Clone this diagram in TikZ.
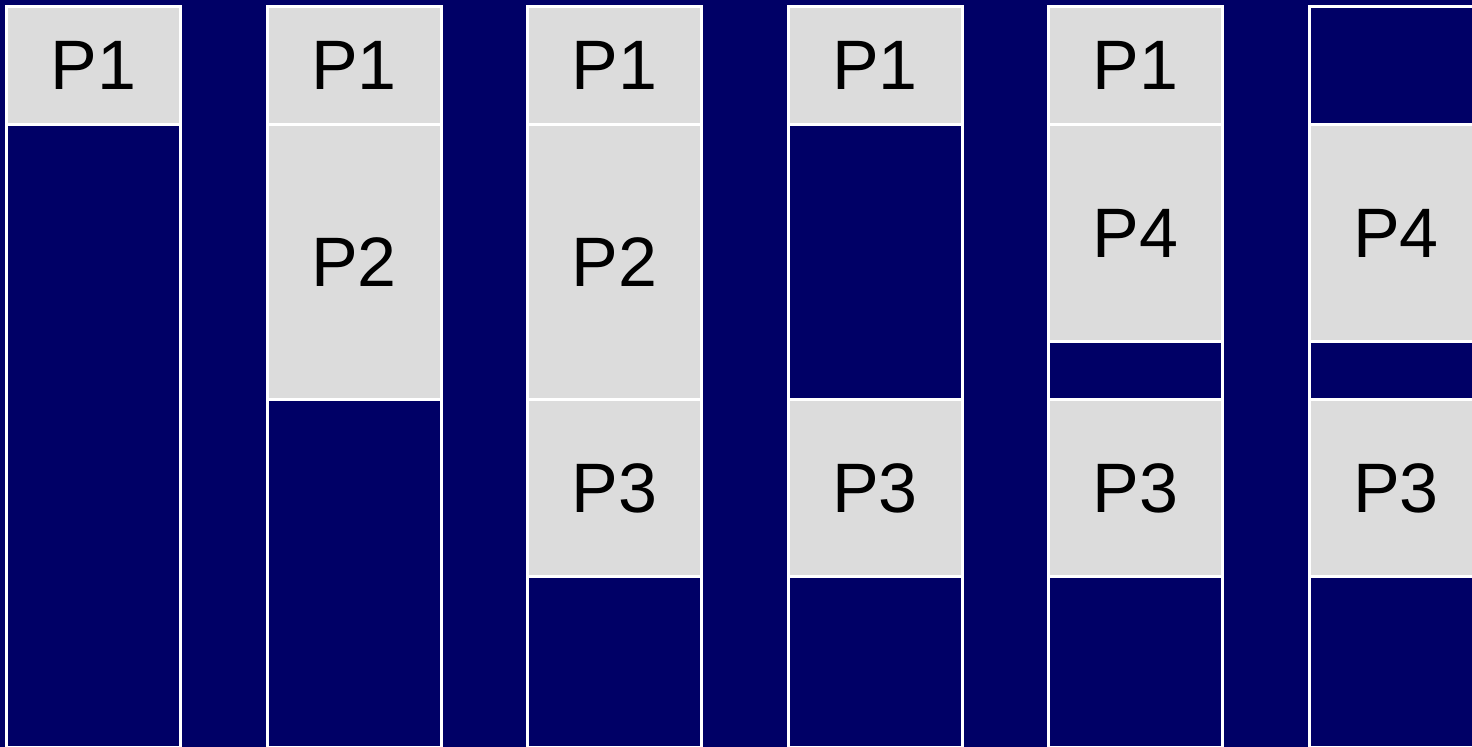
\documentclass[tikz,border=0pt]{standalone}
\usepackage{fontspec}
\setmainfont{Liberation Sans}
\usetikzlibrary{positioning}
\definecolor{memnavy}{HTML}{000066}
\definecolor{memgray}{HTML}{DCDCDC}
\begin{document}
\begin{tikzpicture}[
    x=0.5pt, y=-0.5pt,
    node distance=0pt,
    cell/.style={draw=white, line width=1.5pt, outer sep=0pt, inner sep=0pt, minimum width=87pt, anchor=north},
    proc/.style={cell, fill=memgray, font=\fontsize{35}{42}\selectfont},
    hole/.style={cell, fill=memnavy}
]
\fill[memnavy] (0,0) rectangle (1472,747);
\useasboundingbox (0,0) rectangle (1472,747);
\clip (0,0) rectangle (1472,747);

% column 1
\node[proc, minimum height=59pt] (a1) at (93.5,6.5) {P1};
\node[hole, minimum height=311.75pt, below=of a1] (a2) {};

% column 2
\node[proc, minimum height=59pt] (b1) at (354,6.5) {P1};
\node[proc, minimum height=137.5pt, below=of b1] (b2) {P2};
\node[hole, minimum height=174.25pt, below=of b2] (b3) {};

% column 3
\node[proc, minimum height=59pt] (c1) at (614.5,6.5) {P1};
\node[proc, minimum height=137.5pt, below=of c1] (c2) {P2};
\node[proc, minimum height=88.5pt, below=of c2] (c3) {P3};
\node[hole, minimum height=85.75pt, below=of c3] (c4) {};

% column 4
\node[proc, minimum height=59pt] (d1) at (875,6.5) {P1};
\node[hole, minimum height=137.5pt, below=of d1] (d2) {};
\node[proc, minimum height=88.5pt, below=of d2] (d3) {P3};
\node[hole, minimum height=85.75pt, below=of d3] (d4) {};

% column 5
\node[proc, minimum height=59pt] (e1) at (1135.5,6.5) {P1};
\node[proc, minimum height=108.5pt, below=of e1] (e2) {P4};
\node[hole, minimum height=29pt, below=of e2] (e3) {};
\node[proc, minimum height=88.5pt, below=of e3] (e4) {P3};
\node[hole, minimum height=85.75pt, below=of e4] (e5) {};

% column 6
\node[hole, minimum height=59pt] (f1) at (1396,6.5) {};
\node[proc, minimum height=108.5pt, below=of f1] (f2) {P4};
\node[hole, minimum height=29pt, below=of f2] (f3) {};
\node[proc, minimum height=88.5pt, below=of f3] (f4) {P3};
\node[hole, minimum height=85.75pt, below=of f4] (f5) {};
\end{tikzpicture}
\end{document}
